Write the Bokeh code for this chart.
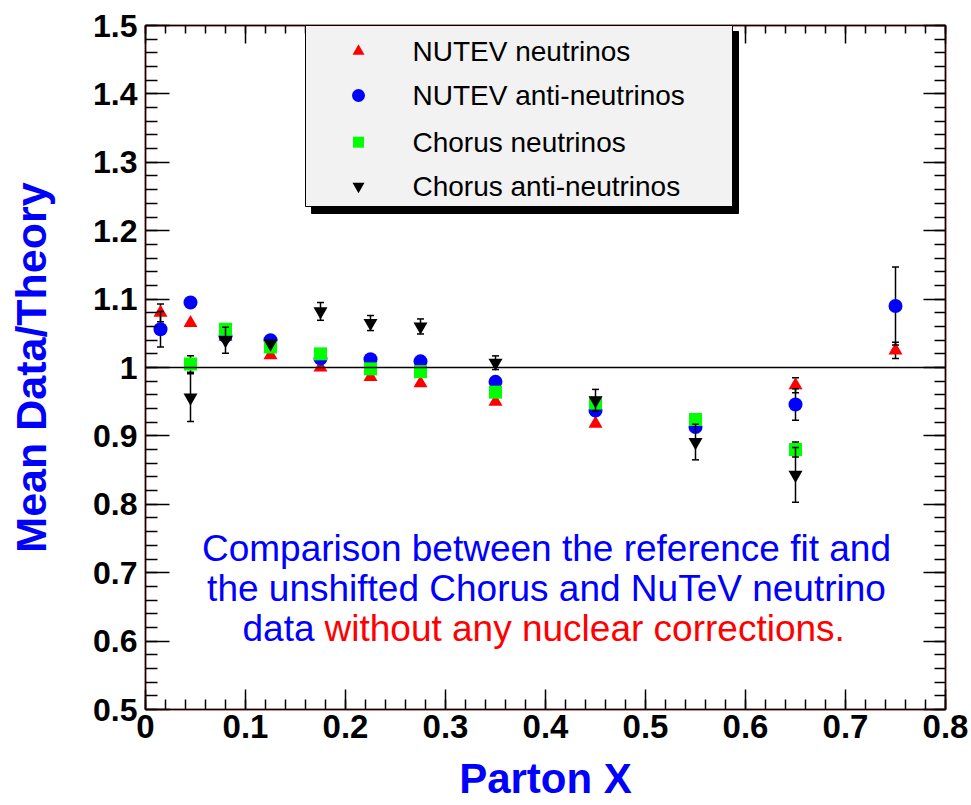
import numpy as np
from bokeh.plotting import figure
from bokeh.models import (FixedTicker, LinearAxis, Span, Title)
from bokeh.core.properties import value
from bokeh.embed import file_html
from bokeh.resources import INLINE

# ---------------- data ----------------
series_names = ["NUTEV neutrinos", "NUTEV anti-neutrinos",
                "Chorus neutrinos", "Chorus anti-neutrinos"]

nutev_nu_x = [0.015, 0.045, 0.08, 0.125, 0.175, 0.225, 0.275, 0.35, 0.45, 0.65, 0.75]
nutev_nu_y = [1.080, 1.065, 1.045, 1.018, 1.000, 0.986, 0.977, 0.950, 0.918, 0.974, 1.025]
nutev_nu_err = [0.013, 0, 0, 0, 0, 0, 0, 0, 0, 0.011, 0.012]

nutev_nubar_x = [0.015, 0.045, 0.08, 0.125, 0.175, 0.225, 0.275, 0.35, 0.45, 0.55, 0.65, 0.75]
nutev_nubar_y = [1.056, 1.095, 1.046, 1.040, 1.013, 1.012, 1.009, 0.979, 0.937, 0.913, 0.946, 1.090]
nutev_nubar_err = [0.026, 0, 0, 0, 0, 0, 0, 0, 0, 0, 0.023, 0.057]

chorus_nu_x = [0.045, 0.08, 0.125, 0.175, 0.225, 0.275, 0.35, 0.45, 0.55, 0.65]
chorus_nu_y = [1.005, 1.056, 1.030, 1.020, 0.998, 0.994, 0.964, 0.948, 0.924, 0.880]
chorus_nu_err = [0.012, 0, 0, 0, 0, 0, 0, 0, 0, 0.011]

chorus_nubar_x = [0.045, 0.08, 0.125, 0.175, 0.225, 0.275, 0.35, 0.45, 0.55, 0.65]
chorus_nubar_y = [0.956, 1.040, 1.035, 1.082, 1.065, 1.060, 1.007, 0.952, 0.891, 0.843]
chorus_nubar_err = [0.035, 0.019, 0, 0.013, 0.011, 0.011, 0.010, 0.016, 0.026, 0.040]

x_ticks = [0.0, 0.1, 0.2, 0.3, 0.4, 0.5, 0.6, 0.7, 0.8]
x_tick_labels = ["0", "0.1", "0.2", "0.3", "0.4", "0.5", "0.6", "0.7", "0.8"]
y_ticks = [0.5, 0.6, 0.7, 0.8, 0.9, 1.0, 1.1, 1.2, 1.3, 1.4, 1.5]
y_tick_labels = ["0.5", "0.6", "0.7", "0.8", "0.9", "1", "1.1", "1.2", "1.3", "1.4", "1.5"]

x_title = "Parton X"
y_title = "Mean Data/Theory"
note_lines = ["Comparison between the reference fit and",
              "the unshifted Chorus and NuTeV neutrino"]
note_blue = "data"
note_red = "without any nuclear corrections."

# ---------------- layout helpers ----------------
FL, FT, FW, FH = 145, 25, 800, 684   # frame left/top/width/height in px
XMIN, XMAX, YMIN, YMAX = 0.0, 0.8, 0.5, 1.5

def px2x(px):
    return XMIN + (px - FL) / FW * (XMAX - XMIN)

def py2y(py):
    return YMAX - (py - FT) / FH * (YMAX - YMIN)

FONT = "Liberation Sans"

p = figure(frame_width=FW, frame_height=FH,
           min_border_left=FL, min_border_right=26,
           min_border_top=FT, min_border_bottom=96,
           x_range=(XMIN, XMAX), y_range=(YMIN, YMAX),
           output_backend="svg", toolbar_location=None,
           background_fill_color="white", border_fill_color="white")
p.grid.visible = False
p.outline_line_color = "#ff0000"
p.outline_line_width = 1.5

x_minor = [round(v, 3) for v in np.arange(0.0, 0.8001, 0.02)]
y_minor = [round(v, 3) for v in np.arange(0.5, 1.5001, 0.02)]
xticker = FixedTicker(ticks=x_ticks, minor_ticks=x_minor)
yticker = FixedTicker(ticks=y_ticks, minor_ticks=y_minor)

def style_axis(ax, ticker, maj_in, min_in):
    ax.ticker = ticker
    ax.axis_line_color = "black"
    ax.axis_line_width = 1.5
    ax.major_tick_in = maj_in
    ax.major_tick_out = 0
    ax.minor_tick_in = min_in
    ax.minor_tick_out = 0
    ax.major_tick_line_width = 1.5
    ax.minor_tick_line_width = 1.5
    ax.major_tick_line_color = "black"
    ax.minor_tick_line_color = "black"

xa = p.xaxis[0]
style_axis(xa, xticker, 20, 10)
xa.major_label_overrides = dict(zip(x_ticks, x_tick_labels))
xa.major_label_text_font = FONT
xa.major_label_text_font_style = "bold"
xa.major_label_text_font_size = "33px"
xa.major_label_text_color = "black"
xa.major_label_standoff = 5

ya = p.yaxis[0]
style_axis(ya, yticker, 24, 12)
ya.major_label_overrides = dict(zip(y_ticks, y_tick_labels))
ya.major_label_text_font = FONT
ya.major_label_text_font_style = "bold"
ya.major_label_text_font_size = "32px"
ya.major_label_text_color = "black"
ya.major_label_standoff = 8
ya.axis_label = y_title
ya.axis_label_text_font = FONT
ya.axis_label_text_font_style = "bold"
ya.axis_label_text_font_size = "43px"
ya.axis_label_text_color = "#0000ff"
ya.axis_label_standoff = 35

top = LinearAxis()
style_axis(top, FixedTicker(ticks=x_ticks, minor_ticks=x_minor), 18, 8)
top.major_label_text_font_size = "8px"
top.major_label_text_color = None
top.major_label_standoff = 0
p.add_layout(top, "above")

right = LinearAxis()
style_axis(right, FixedTicker(ticks=y_ticks, minor_ticks=y_minor), 22, 11)
right.major_label_text_font_size = "8px"
right.major_label_text_color = None
right.major_label_standoff = 0
p.add_layout(right, "right")

# x-axis title as a title panel stacked below the axis
p.add_layout(Title(text=x_title, align="center", text_font=FONT,
                   text_font_style="bold", text_font_size="42px",
                   text_color="#0000ff", standoff=25, offset=0), "below")

p.add_layout(Span(location=1.0, dimension="width", line_color="black", line_width=1.5))

# ---------------- series ----------------
series = [
    (nutev_nu_x, nutev_nu_y, nutev_nu_err, "triangle", "#ff0000", 14),
    (nutev_nubar_x, nutev_nubar_y, nutev_nubar_err, "circle", "#0000ff", 14),
    (chorus_nu_x, chorus_nu_y, chorus_nu_err, "square", "#00ff00", 13),
    (chorus_nubar_x, chorus_nubar_y, chorus_nubar_err, "inverted_triangle", "black", 14),
]

for xs, ys, es, marker, color, size in series:
    ex = [x for x, e in zip(xs, es) if e > 0]
    ey = [y for y, e in zip(ys, es) if e > 0]
    ee = [e for e in es if e > 0]
    lo = [y - e for y, e in zip(ey, ee)]
    hi = [y + e for y, e in zip(ey, ee)]
    if ex:
        p.segment(x0=ex, y0=lo, x1=ex, y1=hi, line_color="black", line_width=1.5)
        p.scatter(x=ex + ex, y=lo + hi, marker="dash", size=7,
                  line_color="black", line_width=1.5)
    p.scatter(x=xs, y=ys, marker=marker, size=size,
              fill_color=color, line_color=color, line_width=0)

# ---------------- legend (drawn by hand, ROOT style with shadow) ----------------
p.quad(left=px2x(311), right=px2x(738), top=py2y(31), bottom=py2y(213),
       fill_color="black", line_color="black", level="overlay")
p.quad(left=px2x(305), right=px2x(732), top=py2y(25), bottom=py2y(206),
       fill_color="#f2f2f2", line_color="black", line_width=1, level="overlay")
leg_rows_py = [50.7, 95, 141.7, 185.7]
leg_markers = [("triangle", "#ff0000", 12), ("circle", "#0000ff", 13),
               ("square", "#00ff00", 11), ("inverted_triangle", "black", 12)]
for (mk, col, sz), rpy in zip(leg_markers, leg_rows_py):
    p.scatter(x=[px2x(358)], y=[py2y(rpy)], marker=mk, size=sz,
              fill_color=col, line_color=col, line_width=0, level="overlay")
p.text(x=[px2x(412)] * 4, y=[py2y(v) for v in leg_rows_py], text=series_names,
       text_font=value(FONT), text_font_size="28px", text_color="black",
       text_align="left", text_baseline="middle", level="overlay")

# ---------------- annotation ----------------
NOTE_SIZE = "37px"
note_cx = px2x(546)
note_py = [548, 588, 628]
p.text(x=[note_cx] * 2, y=[py2y(v) for v in note_py[:2]], text=note_lines,
       text_font=value(FONT), text_font_size=NOTE_SIZE, text_color="#0000ff",
       text_align="center", text_baseline="middle")
p.text(x=[px2x(314)], y=[py2y(note_py[2])], text=[note_blue],
       text_font=value(FONT), text_font_size=NOTE_SIZE, text_color="#0000ff",
       text_align="right", text_baseline="middle")
p.text(x=[px2x(324)], y=[py2y(note_py[2])], text=[note_red],
       text_font=value(FONT), text_font_size=NOTE_SIZE, text_color="#ff0000",
       text_align="left", text_baseline="middle")

open("out.html", "w").write(file_html(p, INLINE))
